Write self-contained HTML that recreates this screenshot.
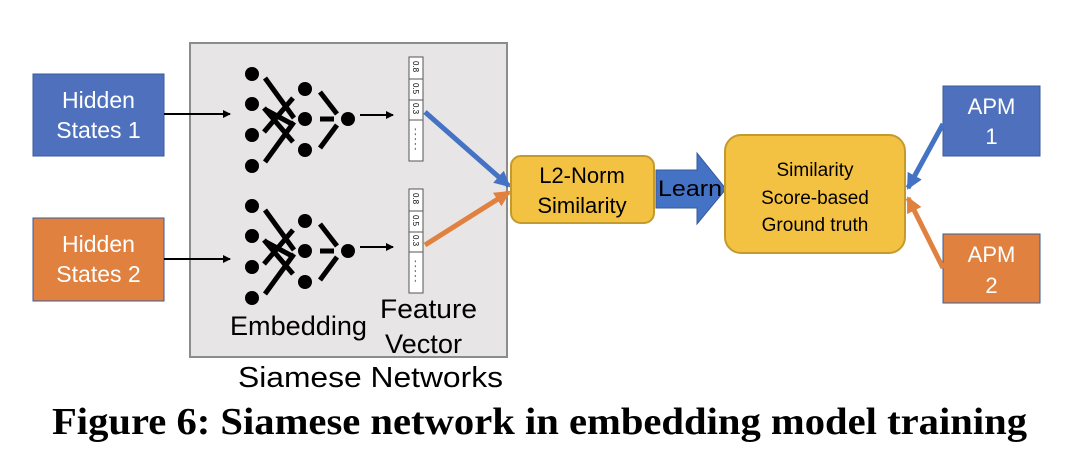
<!DOCTYPE html>
<html><head><meta charset="utf-8"><style>
html,body{margin:0;padding:0;background:#fff;}
svg{display:block;}
</style></head><body>
<svg width="1066" height="454" viewBox="0 0 1066 454" xmlns="http://www.w3.org/2000/svg" font-family="Liberation Sans, sans-serif">
<defs>
<marker id="ab" markerWidth="8" markerHeight="8" refX="7" refY="4" orient="auto" markerUnits="userSpaceOnUse"><path d="M0,0 L8,4 L0,8 Z" fill="#000"/></marker>
<marker id="mb" markerWidth="16" markerHeight="16" refX="14" refY="8" orient="auto" markerUnits="userSpaceOnUse"><path d="M0,0 L16,8 L0,16 Z" fill="#4472c4"/></marker>
<marker id="mo" markerWidth="16" markerHeight="16" refX="14" refY="8" orient="auto" markerUnits="userSpaceOnUse"><path d="M0,0 L16,8 L0,16 Z" fill="#e0813f"/></marker>
<g id="net">
<g fill="#000">
<circle cx="252" cy="74" r="7"/><circle cx="252" cy="104" r="7"/><circle cx="252" cy="135" r="7"/><circle cx="252" cy="166" r="7"/>
<circle cx="305" cy="89" r="7"/><circle cx="305" cy="119" r="7"/><circle cx="305" cy="150" r="7"/>
<circle cx="348" cy="119" r="7"/>
</g>
<g stroke="#000" stroke-width="5">
<line x1="265" y1="78" x2="294" y2="118"/>
<line x1="265" y1="162" x2="294" y2="122"/>
<line x1="264" y1="108" x2="293" y2="142"/>
<line x1="264" y1="132" x2="293" y2="98"/>
<line x1="266" y1="110" x2="292" y2="124"/>
<line x1="320" y1="92" x2="337" y2="114"/>
<line x1="320" y1="148" x2="337" y2="125"/>
<line x1="320" y1="119" x2="334" y2="119"/>
</g>
<line x1="360" y1="115" x2="393" y2="115" stroke="#000" stroke-width="2" marker-end="url(#ab)"/>
<g>
<rect x="409" y="57" width="14" height="104" fill="#fff" stroke="#555" stroke-width="1"/>
<line x1="409" y1="79" x2="423" y2="79" stroke="#555"/>
<line x1="409" y1="100" x2="423" y2="100" stroke="#555"/>
<line x1="409" y1="120" x2="423" y2="120" stroke="#555"/>
<g font-size="8" fill="#000">
<text transform="translate(413,61) rotate(90)">0.8</text>
<text transform="translate(413,83) rotate(90)">0.5</text>
<text transform="translate(413,103) rotate(90)">0.3</text>
<text transform="translate(413,128) rotate(90)">- - - - -</text>
</g>
</g>
</g>
</defs>
<rect x="190" y="43" width="317" height="314" fill="#e7e5e6" stroke="#8c8c8c" stroke-width="2"/>
<use href="#net"/>
<use href="#net" transform="translate(0,132)"/>
<rect x="33" y="74" width="131" height="82" fill="#4f71bd" stroke="#3a5a9a" stroke-width="1"/>
<text x="98.5" y="108" font-size="23" fill="#fff" text-anchor="middle">Hidden</text>
<text x="98.5" y="138" font-size="23" fill="#fff" text-anchor="middle">States 1</text>
<rect x="33" y="218" width="131" height="83" fill="#e0813f" stroke="#3a5a9a" stroke-width="1"/>
<text x="98.5" y="252" font-size="23" fill="#fff" text-anchor="middle">Hidden</text>
<text x="98.5" y="282" font-size="23" fill="#fff" text-anchor="middle">States 2</text>
<line x1="164" y1="114" x2="230" y2="114" stroke="#000" stroke-width="2" marker-end="url(#ab)"/>
<line x1="164" y1="259" x2="230" y2="259" stroke="#000" stroke-width="2" marker-end="url(#ab)"/>
<line x1="425" y1="112" x2="509" y2="186" stroke="#4472c4" stroke-width="5" marker-end="url(#mb)"/>
<line x1="425" y1="245" x2="509" y2="192" stroke="#e0813f" stroke-width="5" marker-end="url(#mo)"/>
<text x="230" y="335" font-size="27" textLength="137" lengthAdjust="spacingAndGlyphs">Embedding</text>
<text x="380" y="318" font-size="27" textLength="97" lengthAdjust="spacingAndGlyphs">Feature</text>
<text x="385" y="353" font-size="27" textLength="77" lengthAdjust="spacingAndGlyphs">Vector</text>
<text x="238" y="387" font-size="29" textLength="265" lengthAdjust="spacingAndGlyphs">Siamese Networks</text>
<rect x="511" y="156" width="143" height="67" rx="10" fill="#f4c242" stroke="#c49a2c" stroke-width="2"/>
<text x="582" y="183" font-size="22" text-anchor="middle">L2-Norm</text>
<text x="582" y="213" font-size="22" text-anchor="middle">Similarity</text>
<path d="M656,170 L697,170 L697,153 L726,189 L697,224 L697,208 L656,208 Z" fill="#4472c4" stroke="#3a5a9a" stroke-width="1"/>
<text x="658" y="196" font-size="22" textLength="64" lengthAdjust="spacingAndGlyphs">Learn</text>
<rect x="725" y="135" width="180" height="118" rx="16" fill="#f4c242" stroke="#c49a2c" stroke-width="2"/>
<text x="815" y="176" font-size="19" text-anchor="middle">Similarity</text>
<text x="815" y="204" font-size="19" text-anchor="middle">Score-based</text>
<text x="815" y="231" font-size="19" text-anchor="middle">Ground truth</text>
<rect x="943" y="86" width="97" height="70" fill="#4f71bd" stroke="#3a5a9a" stroke-width="1"/>
<text x="991.5" y="114" font-size="22" fill="#fff" text-anchor="middle">APM</text>
<text x="991.5" y="144" font-size="22" fill="#fff" text-anchor="middle">1</text>
<rect x="943" y="234" width="97" height="69" fill="#e0813f" stroke="#3a5a9a" stroke-width="1"/>
<text x="991.5" y="262" font-size="22" fill="#fff" text-anchor="middle">APM</text>
<text x="991.5" y="293" font-size="22" fill="#fff" text-anchor="middle">2</text>
<line x1="943" y1="124" x2="908" y2="188" stroke="#4472c4" stroke-width="5" marker-end="url(#mb)"/>
<line x1="943" y1="268" x2="908" y2="198" stroke="#e0813f" stroke-width="5" marker-end="url(#mo)"/>
<text x="52" y="434" font-family="Liberation Serif, serif" font-weight="bold" font-size="38" textLength="975" lengthAdjust="spacingAndGlyphs">Figure 6: Siamese network in embedding model training</text>
</svg>
</body></html>
